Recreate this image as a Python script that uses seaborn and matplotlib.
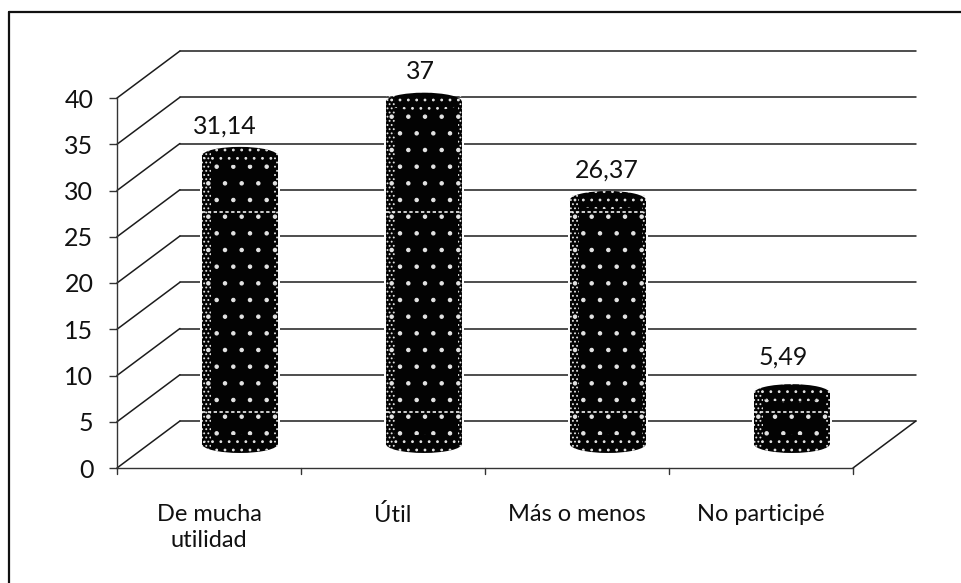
import matplotlib
matplotlib.use("Agg")
import matplotlib.pyplot as plt
from matplotlib.lines import Line2D
from matplotlib.patches import Ellipse, Rectangle
import pandas as pd
import seaborn as sns

categories = ["De mucha\nutilidad", "Útil", "Más o menos", "No participé"]
values = [31.14, 37, 26.37, 5.49]
value_labels = ["31,14", "37", "26,37", "5,49"]
y_ticks = [0, 5, 10, 15, 20, 25, 30, 35, 40]

# chart-plane geometry in data units
DEPTH_X, DEPTH_Y = 0.342, 5.08      # back wall relative to front plane
BAR_DX, BAR_DY = 0.168, 2.6         # bar centre relative to front plane
BAR_W, CAP_H = 0.413, 1.95
LABEL_DX_PX = [-15, -3, -1, -9]
LABEL_GAP_PX = [21, 21, 21, 27]
STREAK_LEVELS = [27.7, 6.05]
SPECK = "#e4e4e4"

sns.set_theme(style="white")
plt.rcParams["font.family"] = ["Lato", "DejaVu Sans"]
plt.rcParams["hatch.linewidth"] = 0.8

W, H = 962, 583
fig = plt.figure(figsize=(W / 100, H / 100), dpi=100, facecolor="white")
ax = fig.add_axes([117 / W, 1 - 468 / H, (853 - 117) / W, (468 - 98) / H])
ax.patch.set_alpha(0)

df = pd.DataFrame({"cat": categories, "val": values})
sns.barplot(data=df, x="cat", y="val", color="#030303", saturation=1, width=BAR_W,
            edgecolor=SPECK, linewidth=0, hatch=".", ax=ax, zorder=4, clip_on=False)
ax.set_xlim(-0.5, 3.5)
ax.set_ylim(0, 40)
ax.set_xlabel("")
ax.set_ylabel("")

# move the bars onto the floor's centre line, add cylinder caps and speckled edges
for i, patch in enumerate(list(ax.patches)):
    v = values[i]
    patch.set_x(patch.get_x() + BAR_DX)
    patch.set_y(BAR_DY)
    cx = i + BAR_DX
    left = cx - BAR_W / 2
    ax.add_patch(Rectangle((left - 0.012, BAR_DY), BAR_W + 0.024, v, facecolor="white",
                           edgecolor="none", zorder=2, clip_on=False))
    for yc in (BAR_DY, BAR_DY + v):
        ax.add_patch(Ellipse((cx, yc), BAR_W, CAP_H, facecolor="#030303", edgecolor=SPECK,
                             linewidth=0, hatch="..", zorder=4, clip_on=False))
    ax.add_patch(Rectangle((left, BAR_DY - CAP_H * 0.3), 0.05, v + CAP_H * 0.6, facecolor="none",
                           edgecolor=SPECK, linewidth=0, hatch="....", zorder=5, clip_on=False))
    ax.add_patch(Rectangle((left + BAR_W - 0.02, BAR_DY - CAP_H * 0.3), 0.02, v + CAP_H * 0.6,
                           facecolor="none", edgecolor=SPECK, linewidth=0, hatch="....",
                           zorder=5, clip_on=False))
    for lv in STREAK_LEVELS:
        if lv < BAR_DY + v:
            ax.plot([left, left + BAR_W], [lv, lv], color="#f2f2f2", lw=1.2, ls=(0, (2, 1.5)),
                    zorder=6, clip_on=False)
    ax.annotate(value_labels[i], (cx, BAR_DY + v + CAP_H / 2),
                xytext=(LABEL_DX_PX[i] * 0.72, LABEL_GAP_PX[i] * 0.72), textcoords="offset points",
                ha="center", va="center", fontsize=18, color="#111111", zorder=7,
                annotation_clip=False)

# back wall, side wall and floor
line_kw = dict(color="#1c1c1c", lw=1.1, zorder=1, clip_on=False)
for v in y_ticks:
    ax.plot([-0.5 + DEPTH_X, 3.5 + DEPTH_X], [v + DEPTH_Y, v + DEPTH_Y], **line_kw)
    ax.plot([-0.5, -0.5 + DEPTH_X], [v, v + DEPTH_Y], **line_kw)
ax.plot([3.5, 3.5 + DEPTH_X], [0, DEPTH_Y], **line_kw)

for side in ("top", "right"):
    ax.spines[side].set_visible(False)
for side in ("left", "bottom"):
    ax.spines[side].set_color("#333333")
    ax.spines[side].set_linewidth(1.0)

ax.set_yticks(y_ticks)
ax.tick_params(axis="y", left=True, length=6, width=1, color="#333333", pad=11,
               labelsize=18, labelcolor="#111111")
ax.set_xticks(range(len(categories)))
ax.set_xticklabels(categories, linespacing=1.3)
ax.tick_params(axis="x", bottom=False, pad=20, labelsize=17, labelcolor="#111111")
for i in range(len(categories) + 1):
    ax.plot([i - 0.5, i - 0.5], [0, -0.7], color="#333333", lw=1, clip_on=False, zorder=1)

# outer chart frame: only its top and left edges are in the scan
frame_kw = dict(transform=fig.transFigure, color="#111111", lw=1.6)
fig.add_artist(Line2D([9 / W, 1], [1 - 12 / H, 1 - 12 / H], **frame_kw))
fig.add_artist(Line2D([9 / W, 9 / W], [0, 1 - 12 / H], **frame_kw))

fig.savefig("out.png", dpi=100, facecolor="white")
